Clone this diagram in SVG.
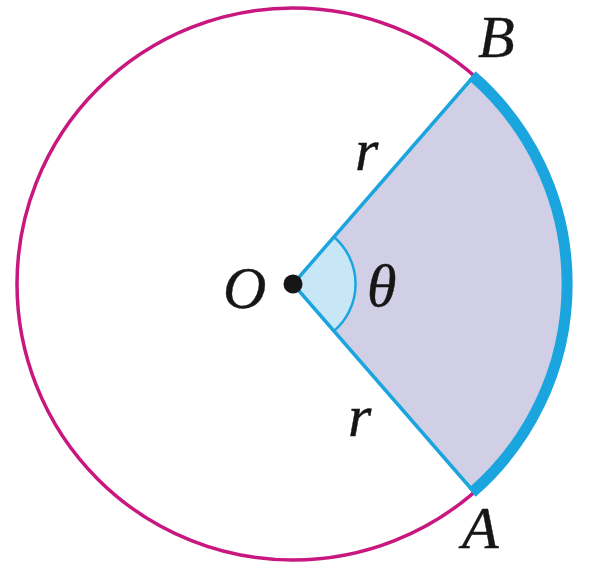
<svg xmlns="http://www.w3.org/2000/svg" width="590" height="570" viewBox="0 0 590 570">
<style>
.lbl{font-family:"Liberation Serif","Times New Roman",serif;font-style:italic;font-size:60px;fill:#161616;stroke:#161616;stroke-width:0.4}
.ray{stroke:#1ba5de;stroke-width:3.5;fill:none}
</style>
<rect width="590" height="570" fill="#fff"/>
<g id="circle">
<circle cx="293" cy="284" r="276" fill="none" stroke="#c8177f" stroke-width="3.5"/>
</g>
<g id="sector">
<path d="M293,284 L474,76 A276,276 0 0 1 474,492 Z" fill="#d0cfe6"/>
<path d="M293,284 L334,237 A62,62 0 0 1 334,331 Z" fill="#c7e7f7"/>
</g>
<g id="connectors">
<path class="ray" d="M474,76 L293,284 L474,492"/>
<path d="M334,237 A62,62 0 0 1 334,331" fill="none" stroke="#1ba5de" stroke-width="2.5"/>
<path d="M472,75.5 A276,276 0 0 1 472,492.5" fill="none" stroke="#1ba5de" stroke-width="11"/>
</g>
<g id="O">
<circle cx="293" cy="284" r="9.5" fill="#161616"/>
<text class="lbl" x="223" y="308">O</text>
</g>
<g id="B"><text class="lbl" x="478" y="57">B</text></g>
<g id="A"><text class="lbl" x="462" y="548">A</text></g>
<g id="theta"><text class="lbl" x="367" y="306">θ</text></g>
<g id="r1"><text class="lbl" x="355" y="170">r</text></g>
<g id="r2"><text class="lbl" x="348" y="436">r</text></g>
</svg>
